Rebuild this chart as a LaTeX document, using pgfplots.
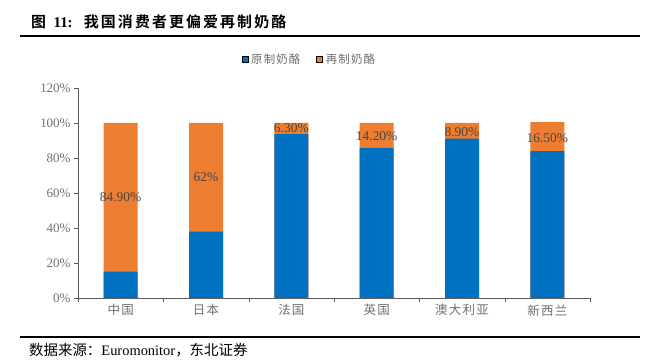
\documentclass[border=0pt]{standalone}
\usepackage{pgfplots}
\pgfplotsset{compat=1.18}
\usepackage{fontspec}
\setmainfont{Liberation Serif}
\newfontfamily\cjk{Noto Sans CJK SC}
\newfontfamily\cjks[LetterSpace=10]{Noto Sans CJK SC}
\newfontfamily\cjkb[LetterSpace=14]{Noto Sans CJK SC Bold}
\definecolor{cblue}{HTML}{0070C0}
\definecolor{corange}{HTML}{ED7D31}
\definecolor{tgray}{HTML}{595959}
\definecolor{lgray}{HTML}{6F6F6F}
\begin{document}
\begin{tikzpicture}[x=1bp,y=1bp]
\useasboundingbox (0,0) rectangle (655,362);
\node[anchor=west,inner sep=0pt,font=\fontsize{15}{17}\selectfont] at (31,340) {{\cjkb 图}\ \ \textbf{11:}\ \ \ {\cjkb 我国消费者更偏爱再制奶酪}};
\draw[line width=1.2bp] (20,326) -- (640,326);
\draw[line width=1.2bp] (20,25) -- (640,25);
\node[anchor=west,inner sep=0pt,font=\fontsize{14.5}{16}\selectfont] at (29,12) {{\cjk 数据来源：}Euromonitor{\cjk ，东北证券}};
\begin{axis}[
  at={(78bp,64bp)}, anchor=south west,
  scale only axis, width=512bp, height=210bp,
  xmin=-0.5, xmax=5.5, ymin=0, ymax=120,
  axis x line=bottom, axis y line=left,
  axis line style={black!65, -},
  xtick={-0.5,0.5,...,5.5}, xticklabels={},
  extra x ticks={0,1,2,3,4,5},
  extra x tick labels={中国,日本,法国,英国,澳大利亚,新西兰},
  extra x tick style={major tick length=0pt, tick label style={font=\cjks\fontsize{12.5}{14}\selectfont, text=lgray, yshift=-3bp}},
  ytick={0,20,...,120},
  yticklabel={\pgfmathprintnumber{\tick}\%},
  /pgf/number format/assume math mode=true,
  y tick label style={font=\fontsize{13}{15}\selectfont, text=lgray},
  tick style={black!65},
  tick align=outside, major tick length=4bp,
  legend style={at={(0.452,1.138)}, anchor=center, draw=none, legend columns=2, font=\cjks\fontsize{11.5}{13}\selectfont, text=lgray, /tikz/every even column/.append style={column sep=14bp}, /tikz/every odd column/.append style={column sep=1bp}},
  legend image code/.code={\fill[#1] (0bp,-3bp) rectangle (6bp,3bp);},
  clip=false,
]
\addlegendimage{fill=cblue}\addlegendentry{原制奶酪}
\addlegendimage{fill=corange}\addlegendentry{再制奶酪}
\addplot[ybar, bar width=34bp, bar shift=0pt, fill=corange, draw=none, forget plot] coordinates {(0,100) (1,100) (2,100) (3,100) (4,100) (5,100.5)};
\addplot[ybar, bar width=34bp, bar shift=0pt, fill=cblue, draw=none, forget plot] coordinates {(0,15.1) (1,38) (2,93.7) (3,85.8) (4,91.1) (5,84)};
\addplot[only marks, mark=*, mark size=0pt, mark options={draw=none,fill=none}, forget plot,
  point meta=explicit symbolic,
  nodes near coords={\pgfplotspointmeta\%},
  nodes near coords style={anchor=center, inner sep=0pt, font=\fontsize{13.5}{15}\selectfont, text=black!72}]
  table[meta=label] {
x y label
0 57.55 84.90
1 69 62
2 97.3 6.30
3 92.5 14.20
4 94.8 8.90
5 91.5 16.50
};
\end{axis}
\end{tikzpicture}
\end{document}
